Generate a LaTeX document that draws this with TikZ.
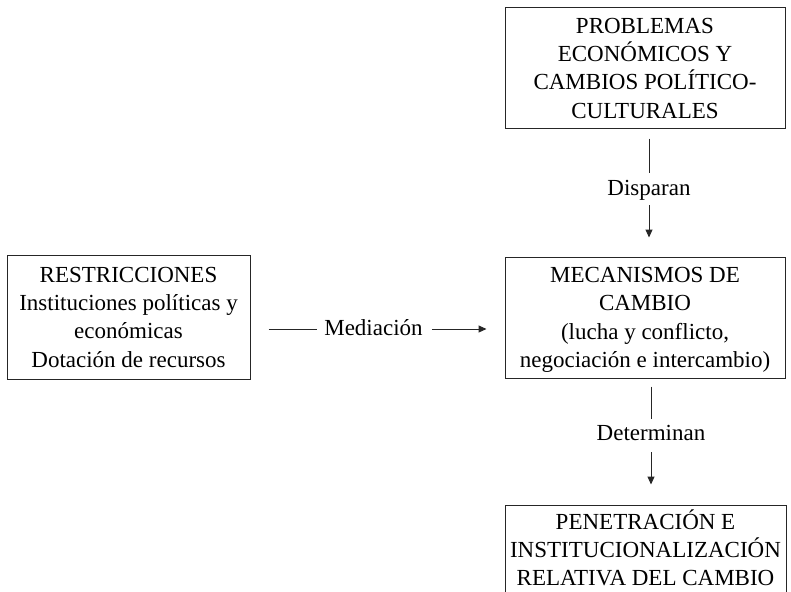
\documentclass[tikz,border=0pt]{standalone}
\usepackage{fontspec}
\setmainfont{Liberation Serif}
\usetikzlibrary{arrows.meta}
\begin{document}
\begin{tikzpicture}[x=1pt,y=-1pt,
  font=\fontsize{23}{28.3}\selectfont,
  box/.style={draw=black!85, line width=1pt, align=center, inner sep=0pt, text depth=0pt},
  lbl/.style={inner sep=0pt, anchor=base},
  conn/.style={draw=black!85, line width=1pt},
  tip/.style={-{Triangle[length=8pt,width=7pt]}}]
\useasboundingbox (0,0) rectangle (791,591);
% boxes
\node[box, minimum width=280pt, minimum height=120pt] (top) at (645,68)
  {PROBLEMAS\\ECONÓMICOS Y\\CAMBIOS POLÍTICO-\\CULTURALES};
\node[box, minimum width=280pt, minimum height=121pt] (mid) at (645,317.5)
  {MECANISMOS DE\\CAMBIO\\(lucha y conflicto,\\negociación e intercambio)};
\node[box, minimum width=243pt, minimum height=124pt] (left) at (128.5,317)
  {RESTRICCIONES\\Instituciones políticas y\\económicas\\Dotación de recursos};
\node[box, minimum width=281pt, minimum height=115pt, text depth=30pt] (bot) at (645.5,562.5)
  {PENETRACIÓN E\\INSTITUCIONALIZACIÓN\\RELATIVA DEL CAMBIO};
% labels
\node[lbl] (disp) at (649,195) {Disparan};
\node[lbl] (det) at (651,440) {Determinan};
\node[lbl] (med) at (373.5,335) {Mediación};
\coordinate (mline) at (0,329);
% connectors
\draw[conn, shorten <=10pt, shorten >=7pt] (disp |- top.south) -- (disp.north);
\draw[conn, tip, shorten <=5pt, shorten >=19pt] (disp.south) -- (disp |- mid.north);
\draw[conn, shorten <=8pt, shorten >=6pt] (det |- mid.south) -- (det.north);
\draw[conn, tip, shorten <=12pt, shorten >=20pt] (det.south) -- (det |- bot.north);
\draw[conn, shorten <=18pt, shorten >=7pt] (left.east |- mline) -- (med.west |- mline);
\draw[conn, tip, shorten <=9pt, shorten >=18pt] (med.east |- mline) -- (mid.west |- mline);
\end{tikzpicture}
\end{document}
